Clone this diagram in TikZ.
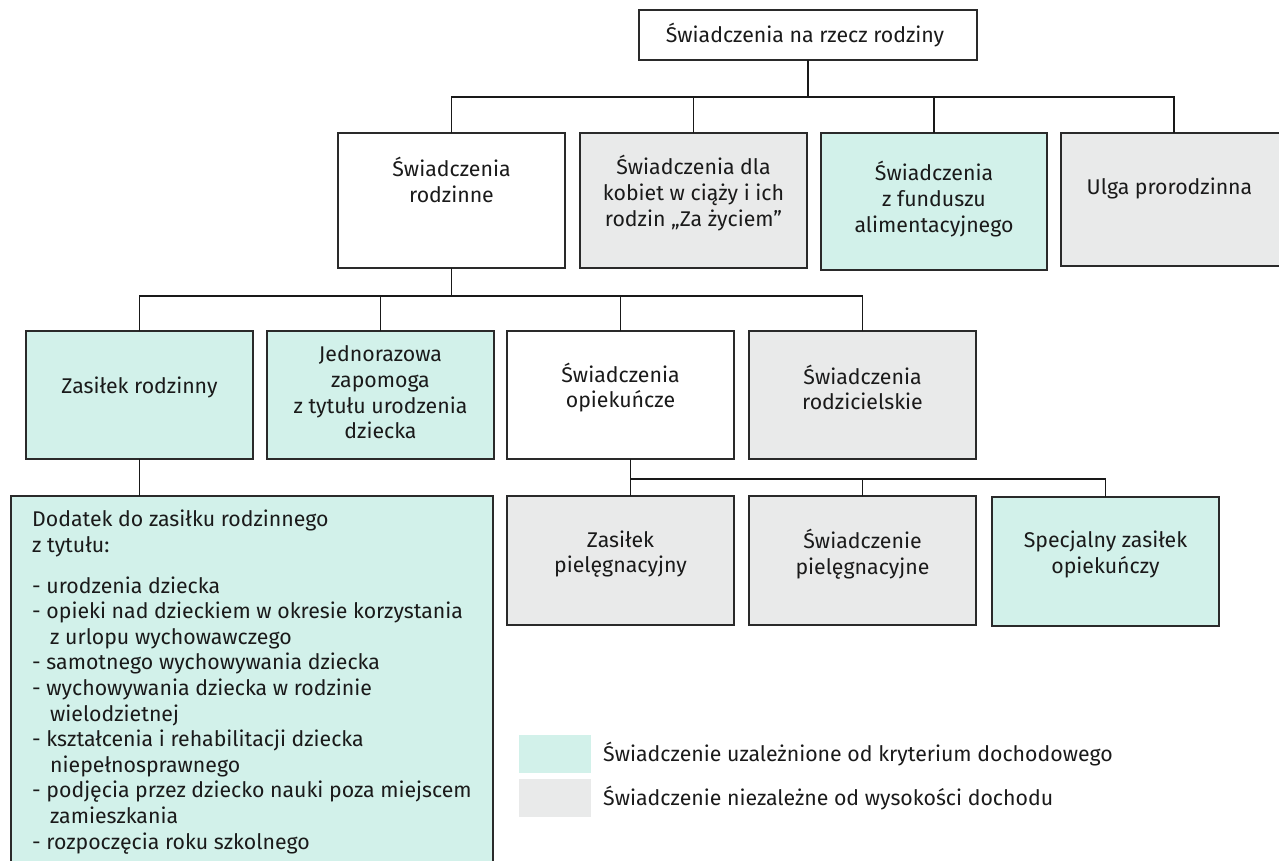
\documentclass[tikz,border=0pt]{standalone}
\usepackage{fontspec}
\setmainfont{Fira Sans}
\definecolor{incomeC}{HTML}{D2F1EA}
\definecolor{grayC}{HTML}{E9EAEA}
\definecolor{lineC}{HTML}{2A2A2A}
\definecolor{textC}{HTML}{1A1A1A}
\begin{document}
\begin{tikzpicture}[x=1pt,y=-1pt,
  font=\fontsize{21.3}{25.6}\selectfont,
  box/.style={draw=lineC, line width=1.3pt, inner sep=0pt, outer sep=0pt, anchor=north west},
  conn/.style={draw=black!90, line width=1.8pt},
  txt/.style={align=center, inner sep=0pt, text=textC},
  ltxt/.style={align=left, inner sep=0pt, text=textC}]
\useasboundingbox (0,0) rectangle (1279,860);
\clip (0,0) rectangle (1279,860);

% boxes
\node[box, fill=white, minimum width=338pt, minimum height=50pt] (top) at (639,10) {};
\node[box, fill=white, minimum width=227pt, minimum height=135pt] (rodz) at (338,133) {};
\node[box, fill=grayC, minimum width=227pt, minimum height=135pt] (kob) at (580,133) {};
\node[box, fill=incomeC, minimum width=226pt, minimum height=137pt] (fund) at (821,133) {};
\node[box, fill=grayC, minimum width=226pt, minimum height=133pt] (ulga) at (1061,133) {};

\node[box, fill=incomeC, minimum width=227pt, minimum height=128pt] (zas) at (26,331) {};
\node[box, fill=incomeC, minimum width=227pt, minimum height=128pt] (jedn) at (267,331) {};
\node[box, fill=white, minimum width=227pt, minimum height=128pt] (opiek) at (507,331) {};
\node[box, fill=grayC, minimum width=227pt, minimum height=128pt] (rodzic) at (749,331) {};

\node[box, fill=grayC, minimum width=227pt, minimum height=129pt] (zp) at (507,496) {};
\node[box, fill=grayC, minimum width=227pt, minimum height=129pt] (swp) at (749,496) {};
\node[box, fill=incomeC, minimum width=227pt, minimum height=129pt] (spec) at (992,497) {};

\node[box, fill=incomeC, minimum width=482pt, minimum height=380pt] (dod) at (11,496) {};

\node[box, draw=none, fill=incomeC, minimum width=72pt, minimum height=38pt] (leg1) at (519,735) {};
\node[box, draw=none, fill=grayC, minimum width=72pt, minimum height=38pt] (leg2) at (519,779) {};

% connectors
\coordinate (h1) at (0,97);
\draw[conn] (top.south) -- (top.south |- h1);
\draw[conn] (rodz.north) |- (ulga.north |- h1) -- (ulga.north);
\draw[conn] (kob.north) -- (kob.north |- h1);
\draw[conn] (fund.north) -- (fund.north |- h1);

\coordinate (h2) at (0,296);
\draw[conn] (rodz.south) -- (rodz.south |- h2);
\draw[conn] (zas.north) |- (rodzic.north |- h2) -- (rodzic.north);
\draw[conn] (jedn.north) -- (jedn.north |- h2);
\draw[conn] (opiek.north) -- (opiek.north |- h2);

\coordinate (h3) at (0,479);
\coordinate (o4) at ([xshift=10pt]opiek.south);
\coordinate (z4) at ([xshift=10pt]zp.north);
\draw[conn] (o4) -- (z4);
\draw[conn] (o4 |- h3) -| (spec.north);
\draw[conn] (swp.north) -- (swp.north |- h3);
\draw[conn] (zas.south) -- (zas.south |- dod.north);

% texts
\node[txt] (topt) at (805,35) {Świadczenia na rzecz rodziny};
\node[txt] (rodzt) at (451.5,180) {Świadczenia\\rodzinne};
\node[txt] (kobt) at (693.5,193) {Świadczenia dla\\kobiet w ciąży i ich\\rodzin „Za życiem”};
\node[txt] (fundt) at (934,199) {Świadczenia\\z funduszu\\alimentacyjnego};
\node[txt] (ulgat) at (1169.5,188) {Ulga prorodzinna};

\node[txt] (zast) at (139.5,387) {Zasiłek rodzinny};
\node[txt] (jednt) at (380.5,392.5) {Jednorazowa\\zapomoga\\z tytułu urodzenia\\dziecka};
\node[txt] (opiekt) at (620.5,387.5) {Świadczenia\\opiekuńcze};
\node[txt] (rodzict) at (862.5,387.5) {Świadczenia\\rodzicielskie};

\node[txt] (zpt) at (620.5,554) {Zasiłek\\pielęgnacyjny};
\node[txt] (swpt) at (862.5,554) {Świadczenie\\pielęgnacyjne};
\node[txt] (spect) at (1105.5,554.5) {Specjalny zasiłek\\opiekuńczy};

\node[ltxt, anchor=north west] (dodt) at (32,510) {Dodatek do zasiłku rodzinnego\\
z tytułu:\\[15pt]
- urodzenia dziecka\\
- opieki nad dzieckiem w okresie korzystania\\
\hspace*{18pt}z urlopu wychowawczego\\
- samotnego wychowywania dziecka\\
- wychowywania dziecka w rodzinie\\
\hspace*{18pt}wielodzietnej\\
- kształcenia i rehabilitacji dziecka\\
\hspace*{18pt}niepełnosprawnego\\
- podjęcia przez dziecko nauki poza miejscem\\
\hspace*{18pt}zamieszkania\\
- rozpoczęcia roku szkolnego};

\node[ltxt, anchor=west] (leg1t) at (603,754) {Świadczenie uzależnione od kryterium dochodowego};
\node[ltxt, anchor=west] (leg2t) at (603,798) {Świadczenie niezależne od wysokości dochodu};
\end{tikzpicture}
\end{document}
